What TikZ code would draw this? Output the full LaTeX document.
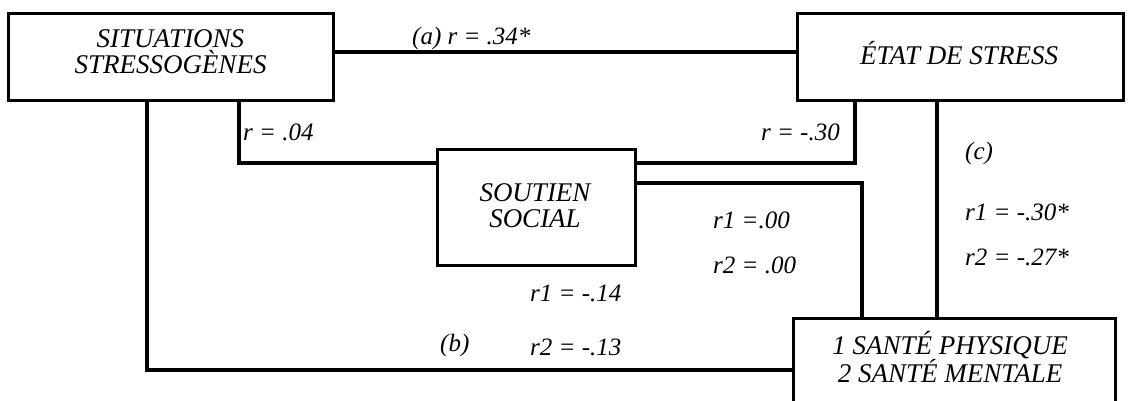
\documentclass[tikz,border=0pt]{standalone}
\usepackage{fontspec}
\setmainfont{Liberation Serif}
\begin{document}
\begin{tikzpicture}[x=1pt,y=-1pt,
  box/.style={draw,line width=3pt,inner sep=0pt},
  boxtxt/.style={inner sep=0pt,align=center,font=\fontsize{27}{26}\selectfont\itshape},
  conn/.style={line width=4.5pt},
  lbl/.style={inner sep=0pt,font=\fontsize{25}{25}\selectfont\itshape}]
\useasboundingbox (0,0) rectangle (1129,400);
\node[box,minimum width=325pt,minimum height=87pt] (sit) at (170.5,56.5) {};
\node[boxtxt] (sittxt) at (170.5,52) {SITUATIONS\\STRESSOGÈNES};
\node[box,minimum width=326pt,minimum height=87pt] (etat) at (960,56.5) {};
\node[boxtxt] (etattxt) at (959,53) {ÉTAT DE STRESS};
\node[box,minimum width=198pt,minimum height=116pt] (sout) at (536,207) {};
\node[boxtxt] (souttxt) at (535,206) {SOUTIEN\\SOCIAL};
\node[box,minimum width=322pt,minimum height=92pt] (sante) at (954,364) {};
\node[boxtxt] (santetxt) at (950,357) {1 SANTÉ PHYSIQUE\\2 SANTÉ MENTALE};
\draw[conn] (sit.east |- 0,52) -- (etat.west |- 0,52);
\draw[conn] (sit.south -| 147,0) -- (147,370) -- (sante.west |- 0,370);
\draw[conn] (sit.south -| 239,0) -- (239,163) -- (sout.west |- 0,163);
\draw[conn] (sout.east |- 0,163) -- (855,163) -- (etat.south -| 855,0);
\draw[conn] (sout.east |- 0,183) -- (862,183) -- (sante.north -| 862,0);
\draw[conn] (etat.south -| 937,0) -- (sante.north -| 937,0);
\node[lbl,anchor=west] (la) at (412,38) {(a) r = .34*};
\node[lbl,anchor=west] (lb1) at (243,132) {r = .04};
\node[lbl,anchor=east] (lb2) at (840,132) {r = -.30};
\node[lbl,anchor=west] (lc) at (965,153) {(c)};
\node[lbl,anchor=west] (lc1) at (965,212) {r1 = -.30*};
\node[lbl,anchor=west] (lc2) at (965,257) {r2 = -.27*};
\node[lbl,anchor=west] (ld1) at (713,220) {r1 =.00};
\node[lbl,anchor=west] (ld2) at (713,265) {r2 = .00};
\node[lbl,anchor=west] (le1) at (530,293) {r1 = -.14};
\node[lbl,anchor=west] (le2) at (530,347) {r2 = -.13};
\node[lbl,anchor=west] (lbb) at (440,345) {(b)};
\end{tikzpicture}
\end{document}
